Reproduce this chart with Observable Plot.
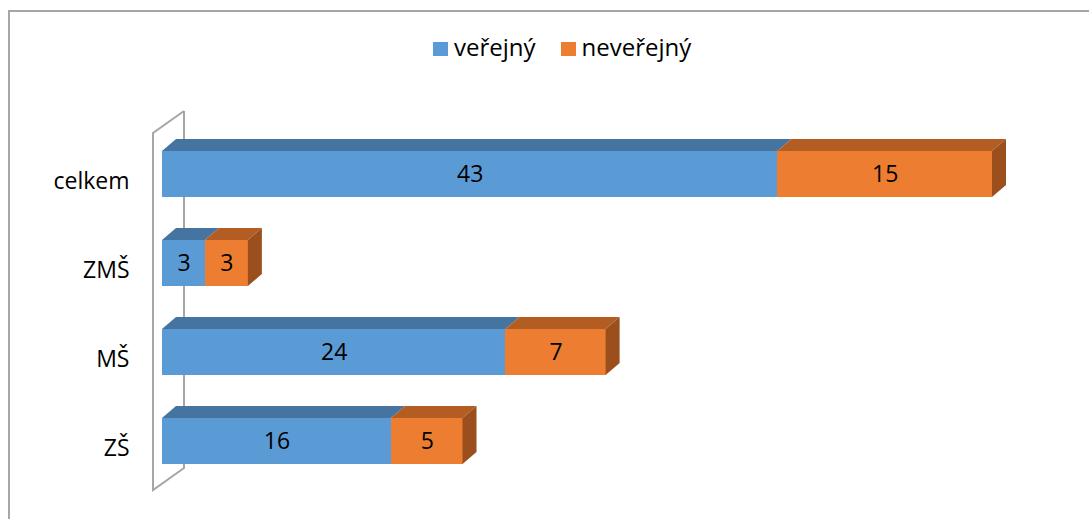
<!DOCTYPE html>
<html>
<head>
<meta charset="utf-8">
<script src="https://cdn.jsdelivr.net/npm/d3@7"></script>
<script src="https://cdn.jsdelivr.net/npm/@observablehq/plot@0.6"></script>
<style>
  html, body { margin: 0; padding: 0; background: #fff; }
  body { width: 1089px; height: 519px; position: relative; overflow: hidden; font-family: "Open Sans", sans-serif; }
  #frame { position: absolute; left: 8px; top: 10px; width: 1081px; height: 509px; box-sizing: border-box;
           border-top: 2px solid #a6a6a6; border-left: 2px solid #a6a6a6; }
  #legend { position: absolute; left: 433px; top: 31px; font-size: 24px; line-height: 32px; white-space: nowrap; color: #000; }
  #legend .item { display: inline-block; margin-right: 25px; }
  #legend .sw { display: inline-block; width: 15px; height: 14px; margin-right: 6px; }
  #chart { position: absolute; left: 0; top: 100px; }
  #chart svg g[aria-label="bar"] rect { shape-rendering: crispEdges; }
</style>
</head>
<body>
<div id="frame"></div>
<div id="legend"></div>
<div id="chart"></div>
<script>
// ---- data ----
const categories = ["celkem", "ZMŠ", "MŠ", "ZŠ"];
const seriesNames = ["veřejný", "neveřejný"];
const verejny = [43, 3, 24, 16];
const neverejny = [15, 3, 7, 5];

// ---- styles ----
const frontColors = ["#5B9BD5", "#ED7D31"];
const topColors = ["#44749F", "#B45D22"];
const sideColors = ["#3B6591", "#9A4F1D"];

const rows = [];
categories.forEach((c, i) => {
  rows.push({cat: c, series: seriesNames[0], value: verejny[i]});
  rows.push({cat: c, series: seriesNames[1], value: neverejny[i]});
});

// stacked extents for 3D faces
const segs = [];
categories.forEach((c, i) => {
  const vals = [verejny[i], neverejny[i]];
  let acc = 0;
  vals.forEach((v, s) => {
    segs.push({cat: c, s, x1: acc, x2: acc + v, last: s === vals.length - 1});
    acc += v;
  });
});
const maxTotal = d3.max(categories, (c, i) => verejny[i] + neverejny[i]);

// legend
const legend = d3.select("#legend");
seriesNames.forEach((n, i) => {
  const it = legend.append("span").attr("class", "item");
  it.append("span").attr("class", "sw").style("background", frontColors[i]);
  it.append("span").text(n);
});

const DX = 14, DY = -12;      // bar depth
const WDX = 31, WDY = -22;    // wall depth

function wallMark(index, scales, values, dimensions) {
  const x = scales.x;
  const top = dimensions.marginTop, bottom = dimensions.height - dimensions.marginBottom;
  const fx = x(0) - 9, y0 = top + 4.6, y1 = bottom + 4.4;
  const g = d3.create("svg:g");
  const pts = [[fx + WDX, y0 + WDY], [fx, y0], [fx, y1], [fx + WDX, y1 + WDY], [fx + WDX, y0 + WDY]];
  g.append("path")
    .attr("d", d3.line()(pts))
    .attr("fill", "none")
    .attr("stroke", "#a6a6a6")
    .attr("stroke-width", 2)
    .attr("stroke-linejoin", "miter");
  return g.node();
}

function facesMark(index, scales, values, dimensions) {
  const x = scales.x, y = scales.y;
  const bw = y.bandwidth ? y.bandwidth() : scales.scales.y.bandwidth;
  const g = d3.create("svg:g");
  for (const d of segs) {
    const a = x(d.x1), b = x(d.x2), t = y(d.cat), btm = t + bw;
    g.append("path")
      .attr("d", d3.line()([[a, t], [b, t], [b + DX, t + DY], [a + DX, t + DY]]) + "Z")
      .attr("fill", topColors[d.s]);
    if (d.last) {
      g.append("path")
        .attr("d", d3.line()([[b, t], [b + DX, t + DY], [b + DX, btm + DY], [b, btm]]) + "Z")
        .attr("fill", sideColors[d.s]);
    }
  }
  return g.node();
}

const chart = Plot.plot({
  width: 1089,
  height: 419,
  marginLeft: 162,
  marginRight: 97,
  marginTop: 28.4,
  marginBottom: 33.4,
  x: {domain: [0, maxTotal], axis: null},
  y: {domain: categories, paddingInner: 0.485, paddingOuter: 0.2425, axis: null},
  color: {domain: seriesNames, range: frontColors},
  style: {fontFamily: "'Open Sans', sans-serif", fontSize: "23px", color: "#000", background: "transparent"},
  marks: [
    wallMark,
    Plot.barX(rows, Plot.stackX({x: "value", y: "cat", fill: "series", order: seriesNames})),
    facesMark,
    Plot.text(rows, Plot.stackX({x: "value", y: "cat", z: "series", text: "value", order: seriesNames, fill: "#000", fontSize: 23, dy: 0.6})),
    Plot.text(categories, {y: d => d, text: d => d, frameAnchor: "left", textAnchor: "end", dx: -33, dy: 7.5, fill: "#000", fontSize: 23})
  ]
});
document.getElementById("chart").appendChild(chart);
</script>
</body>
</html>
